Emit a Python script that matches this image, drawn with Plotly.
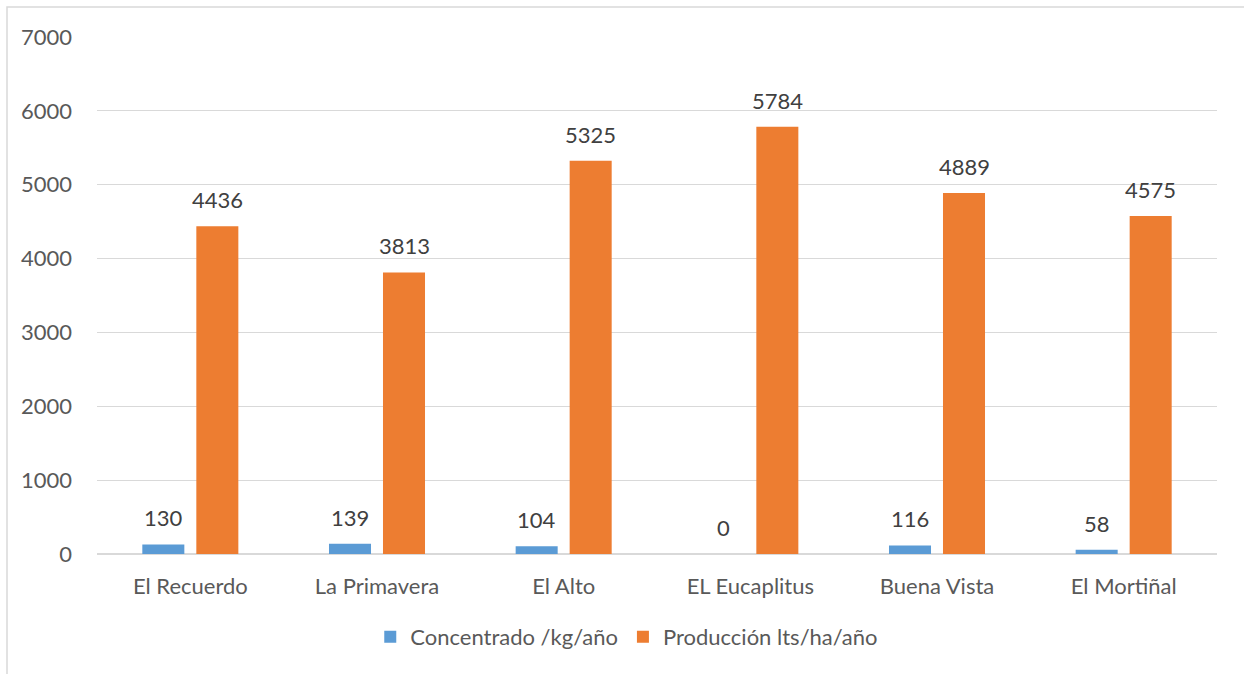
import plotly.graph_objects as go

categories = ["El Recuerdo", "La Primavera", "El Alto", "EL Eucaplitus", "Buena Vista", "El Mortiñal"]
concentrado = [130, 139, 104, 0, 116, 58]
produccion = [4436, 3813, 5325, 5784, 4889, 4575]
y_ticks = [0, 1000, 2000, 3000, 4000, 5000, 6000, 7000]

FONT = "Lato"
FS = 22
W, H = 1244, 674
# plot area in page pixels: x 97..1217, y 37..554
L, T = 97, 37
R = W - 1217
B = H - 554
pw, ph = W - L - R, H - T - B

series = [
    ("Concentrado /kg/año", concentrado, "#5B9BD5", -27),
    ("Producción lts/ha/año", produccion, "#ED7D31", 27),
]

fig = go.Figure()
for name, vals, color, dx in series:
    fig.add_trace(go.Bar(
        x=categories, y=vals, name=name,
        marker=dict(color=color, line=dict(width=0)),
    ))
    for c, v in zip(categories, vals):
        fig.add_annotation(x=c, y=v, text=str(v), showarrow=False,
                           xshift=dx, yshift=11, yanchor="bottom",
                           font=dict(family=FONT, size=FS, color="#404040"))

def px_x(p):
    return (p - L) / pw

def px_y(p):
    return (H - B - p) / ph

fig.add_shape(type="rect", xref="paper", yref="paper",
              x0=px_x(7), x1=px_x(1264), y0=px_y(694), y1=px_y(7),
              line=dict(color="#D9D9D9", width=1.5), layer="below")

fig.update_layout(
    width=W, height=H,
    margin=dict(l=L, r=R, t=T, b=B),
    paper_bgcolor="white", plot_bgcolor="white",
    barmode="group", bargap=0.4214, bargroupgap=0.222,
    font=dict(family=FONT, size=FS, color="#595959"),
    legend=dict(orientation="h", x=0.473, xanchor="center", y=px_y(637), yanchor="middle",
                font=dict(family=FONT, size=FS, color="#595959"),
                traceorder="normal"),
    xaxis=dict(showgrid=False, showline=True, linecolor="#D9D9D9", linewidth=1,
               ticks="", tickfont=dict(family=FONT, size=FS, color="#595959"),
               ticklabelstandoff=13),
    yaxis=dict(range=[0, 7000], tickvals=y_ticks, showgrid=True, gridcolor="#D9D9D9",
               gridwidth=1, zeroline=True, zerolinecolor="#D9D9D9", showline=False,
               ticks="", tickfont=dict(family=FONT, size=FS, color="#595959"),
               ticklabelstandoff=24),
)

fig.write_html("out.html", config={"displayModeBar": False},
               post_script="document.body.style.margin='0px';document.documentElement.style.overflow='hidden';")
